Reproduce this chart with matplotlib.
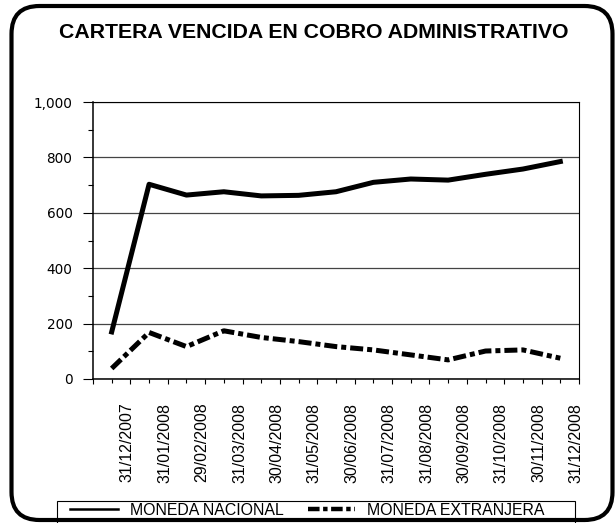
import numpy as np
import matplotlib
matplotlib.use("Agg")
import matplotlib.pyplot as plt
import matplotlib.transforms as mtransforms
from matplotlib.patches import FancyBboxPatch, Rectangle
from matplotlib.lines import Line2D
from matplotlib.ticker import FixedLocator, FuncFormatter

# ----------------------------
# DATA
# ----------------------------
fechas = ["31/12/2007", "31/01/2008", "29/02/2008", "31/03/2008", "30/04/2008",
          "31/05/2008", "30/06/2008", "31/07/2008", "31/08/2008", "30/09/2008",
          "31/10/2008", "30/11/2008", "31/12/2008"]
moneda_nacional = [170, 703, 664, 676, 661, 663, 676, 710, 722, 718, 739, 758, 785]
moneda_extranjera = [38, 168, 117, 174, 150, 135, 117, 105, 87, 69, 101, 105, 75]

TITULO = "CARTERA VENCIDA EN COBRO ADMINISTRATIVO"
series_labels = ["MONEDA NACIONAL", "MONEDA EXTRANJERA"]

# ----------------------------
# FIGURE
# ----------------------------
W, H = 616, 523
fig = plt.figure(figsize=(W/100, H/100), dpi=100)
fig.patch.set_facecolor("white")

ax = fig.add_axes([93/W, 1 - 379/H, (579-93)/W, (379-102)/H])

x = np.arange(len(fechas))
DASHDOT = (2.6, 0.8, 1.0, 0.8)
ax.plot(x, moneda_nacional, color="black", linewidth=3.6)
ax.plot(x, moneda_extranjera, color="black", linewidth=3.6,
        dashes=DASHDOT, dash_capstyle="butt")

ax.set_xlim(-0.5, len(fechas) - 0.5)
ax.set_ylim(0, 1000)

# y axis
ax.yaxis.set_major_locator(FixedLocator([0, 200, 400, 600, 800, 1000]))
ax.yaxis.set_minor_locator(FixedLocator([100, 300, 500, 700, 900]))
ax.yaxis.set_major_formatter(FuncFormatter(lambda v, p: f"{v:,.0f}"))
ax.tick_params(axis="y", which="major", length=7.2, width=0.8, pad=7.6,
               labelsize=9.8, colors="black")
ax.tick_params(axis="y", which="minor", length=3.6, width=0.8)
ax.grid(axis="y", which="major", color="#444444", linewidth=0.9)
ax.set_axisbelow(True)

# x axis: major ticks at category boundaries, minor at points
bounds = np.arange(-0.5, len(fechas), 1.0)
ax.xaxis.set_major_locator(FixedLocator(bounds))
ax.xaxis.set_minor_locator(FixedLocator(x))
ax.set_xticklabels([""] + fechas, rotation=90, ha="center", va="top",
                   family="Liberation Sans", fontsize=11.5)
ax.tick_params(axis="x", which="major", length=3.6, width=0.8, pad=13.5)
ax.tick_params(axis="x", which="minor", length=3.0, width=0.8)
shift = mtransforms.ScaledTranslation(-3/100, 0, fig.dpi_scale_trans)
for lab in ax.get_xticklabels():
    lab.set_transform(lab.get_transform() + shift)

for s in ["left", "bottom"]:
    ax.spines[s].set_linewidth(1.1)
for s in ["top", "right"]:
    ax.spines[s].set_linewidth(0.8)

# title
fig.text(314/W, 1 - 33/H, TITULO, ha="center", va="center",
         family="Liberation Sans", fontweight="bold", fontsize=15.3)

# legend (frame drawn separately, bottom edge hidden by outer border)
leg_box = Rectangle((57, -5), 575 - 57, (523 - 501) + 5,
                    transform=mtransforms.IdentityTransform(),
                    facecolor="white", edgecolor="black", linewidth=0.8, zorder=5)
fig.patches.append(leg_box)
handles = [Line2D([], [], color="black", linewidth=1.8),
           Line2D([], [], color="black", linewidth=3.2, dashes=DASHDOT,
                  dash_capstyle="butt")]
leg = fig.legend(handles, series_labels, loc="center left",
                 bbox_to_anchor=(70/W, 1 - 510.5/H), ncol=2, borderaxespad=0,
                 borderpad=0, frameon=False,
                 prop={"family": "Liberation Sans", "size": 11.4},
                 handlelength=3.0, handletextpad=0.76, columnspacing=1.55)
leg.set_zorder(6)

# rounded outer border (pixel coords)
border = FancyBboxPatch((11.5, 3), 601, 514,
                        boxstyle="round,pad=0,rounding_size=28",
                        transform=mtransforms.IdentityTransform(),
                        facecolor="none", edgecolor="black", linewidth=3.0,
                        zorder=10)
fig.patches.append(border)

fig.savefig("out.png", dpi=100)
